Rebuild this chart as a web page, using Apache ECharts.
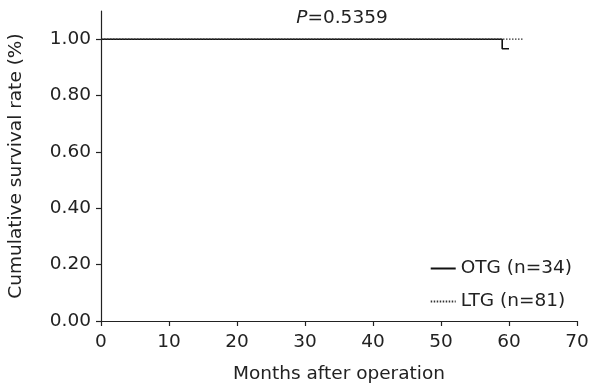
<!DOCTYPE html>
<html>
<head>
<meta charset="utf-8">
<script src="https://cdn.jsdelivr.net/npm/echarts@6/dist/echarts.min.js"></script>
<style>
  html, body { margin: 0; padding: 0; background: #fff; }
  #chart { width: 591px; height: 384px; }
</style>
</head>
<body>
<div id="chart"></div>
<script>
// Kaplan–Meier survival after gastrectomy
const xTicks = [0, 10, 20, 30, 40, 50, 60, 70];
const yTicks = [0, 0.2, 0.4, 0.6, 0.8, 1.0];

// OTG group: event times (months) and survival probability
const otgMonths = [0, 59, 60];
const otgSurvival = [1.0, 0.966, 0.966];

// LTG group: no events during follow-up
const ltgMonths = [0, 62];
const ltgSurvival = [1.0, 1.0];

const pValueText = '{i|P}=0.5359';

const FONT = 'DejaVu Sans';
const FS = 18.5;
const INK = '#222';

const chart = echarts.init(document.getElementById('chart'));

const pairs = (xs, ys) => xs.map((x, i) => [x, ys[i]]);

chart.setOption({
  animation: false,
  backgroundColor: '#fff',
  textStyle: { fontFamily: FONT },
  grid: { left: 101, right: 14, top: 11, bottom: 63, containLabel: false, outerBoundsMode: 'none' },
  xAxis: {
    type: 'value',
    min: 0, max: 70, interval: 10,
    name: 'Months after operation',
    nameLocation: 'middle',
    nameGap: 44,
    nameTextStyle: { fontFamily: FONT, fontSize: FS, color: INK },
    axisLine: { show: true, lineStyle: { color: INK, width: 1.2 } },
    axisTick: { show: true, length: 5, customValues: xTicks, lineStyle: { color: INK, width: 1.2 } },
    axisLabel: { fontFamily: FONT, fontSize: FS, color: INK, margin: 12, customValues: xTicks },
    splitLine: { show: false }
  },
  yAxis: {
    type: 'value',
    min: 0, max: 1.1,
    name: 'Cumulative survival rate (%)',
    nameLocation: 'middle',
    nameGap: 75,
    nameTextStyle: { fontFamily: FONT, fontSize: FS, color: INK },
    axisLine: { show: true, lineStyle: { color: INK, width: 1.2 } },
    axisTick: { show: true, length: 5, customValues: yTicks, lineStyle: { color: INK, width: 1.2 } },
    axisLabel: {
      fontFamily: FONT, fontSize: FS, color: INK, margin: 10,
      customValues: yTicks,
      formatter: v => v.toFixed(2)
    },
    splitLine: { show: false }
  },
  legend: {
    right: 14, top: 254,
    orient: 'vertical',
    itemWidth: 25, itemHeight: 14, itemGap: 14,
    itemStyle: { color: 'rgba(0,0,0,0)', borderWidth: 0 },
    textStyle: { fontFamily: FONT, fontSize: FS, color: INK },
    data: ['OTG (n=34)', 'LTG (n=81)']
  },
  graphic: [{
    type: 'text',
    x: 342, y: 9,
    style: {
      text: pValueText,
      align: 'center',
      font: FS + 'px "' + FONT + '"',
      fill: INK,
      rich: {
        i: { fontStyle: 'italic', fontFamily: FONT, fontSize: FS, fill: INK }
      }
    }
  }],
  series: [
    {
      name: 'OTG (n=34)',
      type: 'line',
      step: 'end',
      symbol: 'none',
      data: pairs(otgMonths, otgSurvival),
      lineStyle: { color: '#111', width: 1.6, type: 'solid' },
      itemStyle: { color: '#111' },
      z: 2
    },
    {
      name: 'LTG (n=81)',
      type: 'line',
      step: 'end',
      symbol: 'none',
      data: pairs(ltgMonths, ltgSurvival),
      lineStyle: { color: '#333', width: 1.2, type: [1.5, 1.5] },
      itemStyle: { color: '#333' },
      z: 3
    }
  ]
});
</script>
</body>
</html>
